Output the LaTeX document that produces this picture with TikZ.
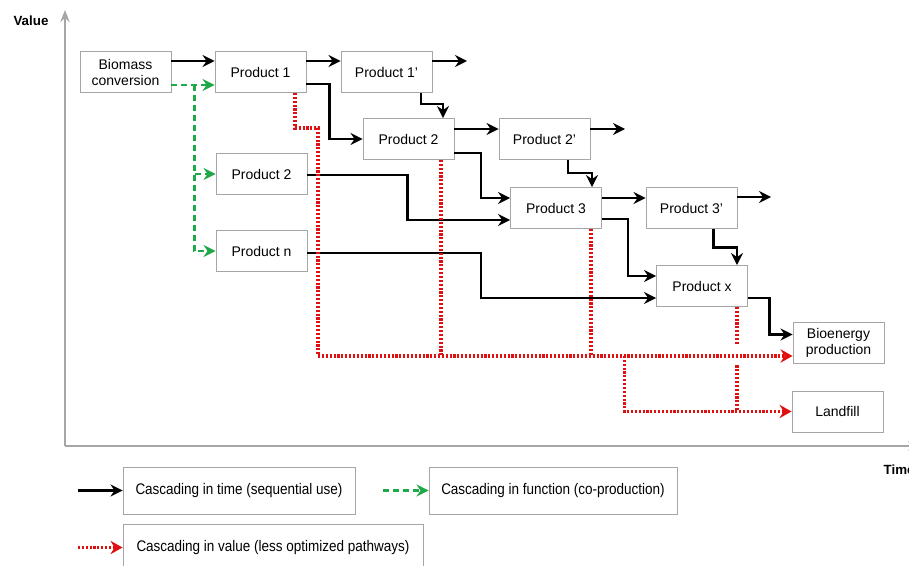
\documentclass[tikz,border=0pt]{standalone}
\usepackage{fontspec}
\setmainfont{Liberation Sans}
\newfontfamily\narrowsans[FakeStretch=0.88]{Liberation Sans}
\usetikzlibrary{calc}
\usetikzlibrary{arrows.meta}
\definecolor{Cgray}{HTML}{A6A6A6}
\definecolor{Cgreen}{HTML}{1FA84A}
\definecolor{Cred}{HTML}{E01010}

\begin{document}
\begin{tikzpicture}[x=0.75pt,y=-0.75pt]
\tikzstyle{prod}=[draw=Cgray, line width=0.7pt, shape=rectangle, minimum width=68.25pt, minimum height=30.75pt, inner sep=0pt, align=center, font=\fontsize{10.5}{12}\selectfont]
\tikzstyle{lgd}=[draw=Cgray, line width=0.7pt, shape=rectangle, minimum height=35.25pt, align=center, inner xsep=0pt, font=\narrowsans\fontsize{11.5}{13}\selectfont]
\tikzstyle{tim}=[line width=2pt, -{Stealth[length=9pt,width=9pt,inset=3pt]}]
\tikzstyle{func}=[Cgreen, line width=2pt, dash pattern=on 4.5pt off 3pt, -{Stealth[length=9pt,width=9pt,inset=3pt]}]
\tikzstyle{val}=[Cred, line width=2.4pt, dash pattern=on 1.6pt off 1.3pt]
\tikzstyle{vala}=[val, -{Stealth[length=9pt,width=10pt,inset=3pt]}]
\tikzstyle{axis}=[Cgray, line width=2.2pt, -{Stealth[length=9pt,width=7pt]}]
\useasboundingbox (0,0) rectangle (909,566);
%
\coordinate (o) at (65,446);
\draw[axis] (o) -- (65,10);
\draw[axis] (o) -- (920,446);
\node[font=\bfseries\fontsize{10}{12}\selectfont](vlab) at (31,21){Value};
\node[font=\bfseries\fontsize{10}{12}\selectfont, anchor=west](tlab) at (879,470){Time};
%
\node[prod](bio) at (125.5,72){Biomass\\conversion};
\node[prod](p1) at (260.5,72){Product 1};
\node[prod](p1b) at (386.5,72){Product 1'};
\node[prod](p2) at (408.5,139){Product 2};
\node[prod](p2b) at (544.5,139){Product 2'};
\node[prod](q2) at (261.5,174){Product 2};
\node[prod](qn) at (261.5,251){Product n};
\node[prod](p3) at (556,208){Product 3};
\node[prod](p3b) at (691.5,208){Product 3'};
\node[prod](px) at (702,286){Product x};
\node[prod](energy) at (838.5,342.5){Bioenergy\\production};
\node[prod](landfill) at (837.5,411.5){Landfill};
%
\coordinate (out1) at (467,61);
\coordinate (out2) at (625,129);
\coordinate (out3) at (771,197);
%
\draw[tim] ($(bio.east)+(0,-11)$) -- ($(p1.west)+(0,-11)$);
\draw[tim] ($(p1.east)+(0,-11)$) -- ($(p1b.west)+(0,-11)$);
\draw[tim] ($(p1b.east)+(0,-11)$) -- (out1);
\draw[tim] ($(p1.east)+(0,12)$) -| ($(p2.west)+(-33,0)$) -- (p2.west);
\draw[tim] ($(p1b.south)+(34.5,0)$) -- ++(0,11) -| ($(p2.north)+(34.5,0)$);
\draw[tim] ($(p2.east)+(0,-10)$) -- ($(p2b.west)+(0,-10)$);
\draw[tim] ($(p2b.east)+(0,-10)$) -- (out2);
\draw[tim] ($(p2.east)+(0,14)$) -| ($(p3.west)+(-29,-10)$) -- ($(p3.west)+(0,-10)$);
\draw[tim] ($(p2b.south)+(23.5,0)$) -- ++(0,13) -| ($(p3.north)+(36,0)$);
\draw[tim] ($(q2.east)+(0,1)$) -| ($(p3.west)+(-102.5,12)$) -- ($(p3.west)+(0,12)$);
\draw[tim] ($(p3.east)+(0,-10)$) -- ($(p3b.west)+(0,-10)$);
\draw[tim] ($(p3b.east)+(0,-11)$) -- (out3);
\draw[tim] ($(p3.east)+(0,11)$) -| ($(px.west)+(-28,-10)$) -- ($(px.west)+(0,-10)$);
\draw[tim] ($(p3b.south)+(22,0)$) -- ++(0,18.5) -| ($(px.north)+(35,0)$);
\draw[tim] ($(qn.east)+(0,2)$) -| ($(px.west)+(-175,12)$) -- ($(px.west)+(0,12)$);
\draw[tim] ($(px.east)+(0,12)$) -| ($(energy.west)+(-23,-8)$) -- ($(energy.west)+(0,-8)$);
%
\draw[func] ($(bio.east)+(0,13)$) -- ($(p1.west)+(0,13)$);
\draw[func] ($(bio.east)+(23,13)$) |- (q2.west);
\draw[func] ($(bio.east)+(23,13)$) |- (qn.west);
%
\coordinate (jn) at ($(energy.west)+(0,13.5)$);
\draw[vala] ($(p1.south)+(34.5,0)$) -- ++(0,35) -- ++(23,0) |- (jn);
\draw[val] ($(p2.south)+(32.5,0)$) coordinate (t2) -- (t2 |- jn);
\draw[val] ($(p3.south)+(35,0)$) coordinate (t3) -- (t3 |- jn);
\draw[vala] ($(jn)+(-168,0)$) |- (landfill.west);
\draw[val] ($(px.south)+(35,0)$) -- ++(0,38.5);
\draw[val] ($(px.south)+(35,58.5)$) coordinate (tx) -- (tx |- landfill.west);
%
\node[lgd, minimum width=174pt](ltim) at (239,490.5){Cascading in time (sequential use)};
\node[lgd, minimum width=186pt](lfunc) at (553,490.5){Cascading in function (co-production)};
\node[lgd, minimum width=225pt](lval) at (273,547.5){Cascading in value (less optimized pathways)};
\coordinate (ktim) at (78,490.5);
\coordinate (kfunc) at (383,490.5);
\coordinate (kval) at (78,547.5);
\draw[tim] (ktim) -- (ltim.west);
\draw[func] (kfunc) -- (lfunc.west);
\draw[vala] (kval) -- (lval.west);
%
\end{tikzpicture}
\end{document}
